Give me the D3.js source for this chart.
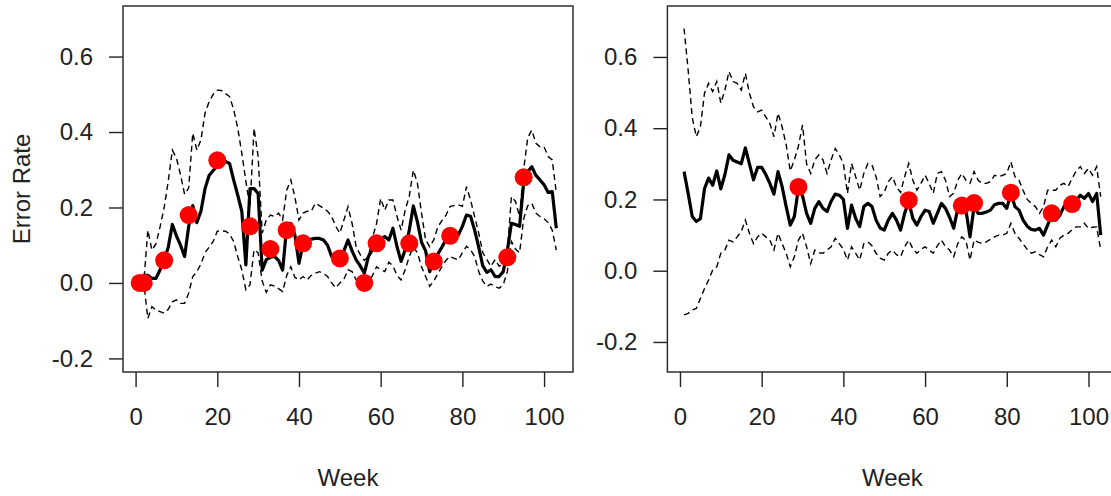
<!DOCTYPE html>
<html>
<head>
<meta charset="utf-8">
<script src="https://cdn.jsdelivr.net/npm/d3@7"></script>
<style>
  html, body { margin: 0; padding: 0; background: #fff; }
  svg { display: block; }
  text { font-family: "Liberation Sans", Arial, sans-serif; fill: #222; }
</style>
</head>
<body>
<svg id="chart" width="1111" height="496"></svg>
<script>
// ---------------- DATA ----------------
const weeks = d3.range(1, 104); // 1..103
const yTicks = [-0.2, 0.0, 0.2, 0.4, 0.6];
const xTicks = [0, 20, 40, 60, 80, 100];

// Left panel
const leftMean = [0.00,0.02,0.02,0.012,0.012,0.035,0.06,0.095,0.155,0.125,
  0.10,0.07,0.15,0.205,0.16,0.19,0.25,0.285,0.298,0.31,
  0.322,0.322,0.317,0.273,0.233,0.19,0.048,0.25,0.25,0.237,
  0.034,0.062,0.068,0.07,0.06,0.034,0.149,0.158,0.127,0.052,
  0.105,0.11,0.116,0.118,0.118,0.114,0.10,0.07,0.062,0.061,
  0.085,0.114,0.085,0.061,0.045,0.026,0.07,0.088,0.105,0.115,
  0.123,0.114,0.145,0.096,0.057,0.088,0.14,0.204,0.162,0.108,
  0.085,0.03,0.056,0.077,0.095,0.115,0.123,0.125,0.127,0.15,
  0.18,0.177,0.14,0.095,0.045,0.028,0.035,0.017,0.017,0.03,
  0.085,0.158,0.155,0.15,0.265,0.295,0.308,0.285,0.273,0.26,
  0.24,0.242,0.145];
const leftUpper = [0.0,0.0,0.14,0.087,0.104,0.149,0.20,0.27,0.352,0.331,
  0.287,0.235,0.252,0.397,0.352,0.379,0.45,0.48,0.50,0.511,
  0.51,0.502,0.494,0.46,0.411,0.344,0.27,0.20,0.41,0.335,
  0.132,0.167,0.18,0.176,0.185,0.167,0.246,0.273,0.228,0.167,
  0.185,0.19,0.19,0.211,0.205,0.198,0.19,0.176,0.15,0.132,
  0.167,0.202,0.158,0.096,0.075,0.06,0.07,0.12,0.158,0.224,
  0.193,0.22,0.22,0.176,0.14,0.193,0.23,0.299,0.264,0.185,
  0.114,0.096,0.114,0.149,0.165,0.18,0.203,0.205,0.207,0.203,
  0.255,0.22,0.176,0.132,0.08,0.062,0.044,0.062,0.044,0.052,
  0.08,0.229,0.216,0.176,0.30,0.385,0.405,0.37,0.361,0.361,
  0.335,0.326,0.238];
const leftLower = [0.0,0.0,-0.094,-0.063,-0.072,-0.076,-0.08,-0.07,-0.05,-0.045,
  -0.054,-0.054,-0.027,0.017,0.03,0.05,0.08,0.095,0.11,0.137,
  0.138,0.137,0.13,0.11,0.07,0.035,-0.018,-0.005,0.088,0.08,
  0.005,-0.025,-0.005,-0.008,-0.015,-0.023,0.02,0.043,0.015,0.008,
  0.017,0.008,0.02,0.026,0.03,0.025,0.017,0.0,-0.013,0.0,
  0.01,0.035,0.03,0.008,-0.005,-0.018,0.0,0.02,0.043,0.035,
  0.03,0.055,0.045,0.02,0.008,0.035,0.07,0.095,0.08,0.043,
  0.017,-0.009,0.005,0.025,0.043,0.06,0.07,0.065,0.061,0.08,
  0.097,0.088,0.07,0.03,0.005,-0.009,-0.003,-0.01,-0.014,-0.005,
  0.03,0.11,0.09,0.08,0.17,0.205,0.211,0.185,0.176,0.17,
  0.16,0.14,0.087];
const leftPointWeeks = [1,2,7,13,20,28,33,37,41,50,56,59,67,73,77,91,95];
const leftPointVals = [0,0,0.06,0.18,0.325,0.15,0.09,0.14,0.105,0.065,0,0.105,0.105,0.057,0.125,0.068,0.28];

// Right panel
const rightMean = [0.278,0.217,0.152,0.138,0.146,0.23,0.26,0.24,0.28,0.23,
  0.27,0.325,0.31,0.305,0.30,0.345,0.30,0.255,0.29,0.29,
  0.27,0.245,0.215,0.278,0.236,0.18,0.128,0.152,0.232,0.21,
  0.161,0.133,0.175,0.194,0.175,0.166,0.195,0.215,0.212,0.20,
  0.119,0.184,0.147,0.124,0.18,0.189,0.18,0.142,0.12,0.114,
  0.142,0.161,0.142,0.114,0.161,0.194,0.147,0.128,0.152,0.17,
  0.166,0.133,0.161,0.189,0.175,0.15,0.119,0.175,0.166,0.17,
  0.095,0.18,0.161,0.161,0.165,0.17,0.185,0.189,0.189,0.175,
  0.217,0.18,0.17,0.142,0.125,0.116,0.114,0.119,0.10,0.128,
  0.156,0.142,0.156,0.18,0.184,0.195,0.198,0.212,0.203,0.217,
  0.194,0.217,0.10];
const rightUpper = [0.68,0.563,0.43,0.376,0.404,0.498,0.526,0.503,0.531,0.47,
  0.507,0.559,0.531,0.526,0.507,0.554,0.498,0.46,0.446,0.451,
  0.432,0.413,0.376,0.442,0.404,0.353,0.28,0.311,0.35,0.409,
  0.30,0.273,0.311,0.325,0.311,0.273,0.311,0.343,0.325,0.301,
  0.217,0.301,0.264,0.226,0.273,0.301,0.297,0.264,0.208,0.22,
  0.25,0.264,0.235,0.22,0.264,0.301,0.254,0.226,0.245,0.268,
  0.245,0.217,0.273,0.278,0.254,0.208,0.217,0.254,0.273,0.254,
  0.245,0.278,0.254,0.245,0.245,0.25,0.268,0.264,0.268,0.273,
  0.306,0.264,0.254,0.225,0.20,0.189,0.18,0.161,0.18,0.226,
  0.226,0.226,0.24,0.245,0.236,0.259,0.28,0.292,0.273,0.287,
  0.268,0.292,0.208];
const rightLower = [-0.124,-0.12,-0.11,-0.106,-0.078,-0.05,-0.026,0.002,0.011,0.049,
  0.058,0.086,0.081,0.095,0.11,0.142,0.105,0.076,0.095,0.105,
  0.095,0.086,0.058,0.105,0.076,0.049,0.011,0.039,0.086,0.105,
  0.067,0.02,0.058,0.05,0.049,0.058,0.067,0.091,0.076,0.06,
  0.03,0.067,0.049,0.03,0.076,0.081,0.07,0.049,0.035,0.03,
  0.049,0.058,0.045,0.039,0.067,0.086,0.062,0.049,0.06,0.067,
  0.058,0.049,0.07,0.086,0.067,0.058,0.039,0.076,0.095,0.085,
  0.03,0.086,0.08,0.076,0.081,0.088,0.095,0.1,0.1,0.105,
  0.133,0.105,0.091,0.075,0.06,0.049,0.053,0.045,0.039,0.067,
  0.086,0.067,0.091,0.1,0.105,0.115,0.123,0.123,0.133,0.119,
  0.122,0.123,0.058];
const rightPointWeeks = [29,56,69,72,81,91,96];
const rightPointVals = [0.235,0.198,0.183,0.19,0.219,0.161,0.187];

// ---------------- DRAW ----------------
const svg = d3.select("#chart");
const FONT = 24;

function panel(cfg) {
  const x = d3.scaleLinear().domain([-3.08, 107.08]).range([cfg.x0, cfg.x1]);
  const y = d3.scaleLinear().domain(cfg.yDomain).range([372, 6]);
  const g = svg.append("g");

  const line = (vals) => d3.line().x((d, i) => x(weeks[i])).y(d => y(d))(vals);

  // bands
  [cfg.upper, cfg.lower].forEach(vals => {
    g.append("path").attr("d", line(vals))
      .attr("fill", "none").attr("stroke", "#000")
      .attr("stroke-width", 1.4).attr("stroke-dasharray", "6,4");
  });
  // mean
  g.append("path").attr("d", line(cfg.mean))
    .attr("fill", "none").attr("stroke", "#000")
    .attr("stroke-width", 3.2).attr("stroke-linejoin", "round");

  // points
  g.selectAll("circle.pt").data(cfg.pw).enter().append("circle")
    .attr("cx", d => x(d)).attr("cy", (d, i) => y(cfg.pv[i]))
    .attr("r", 9).attr("fill", "#ff0000");

  // box
  g.append("rect").attr("x", cfg.x0).attr("y", 6)
    .attr("width", cfg.x1 - cfg.x0).attr("height", 366)
    .attr("fill", "none").attr("stroke", "#222").attr("stroke-width", 1.4);

  // axes
  const ya = g.append("g").attr("transform", `translate(${cfg.x0},0)`)
    .call(d3.axisLeft(y).tickValues(yTicks).tickSize(14).tickPadding(16)
      .tickFormat(d3.format(".1f")));
  const xa = g.append("g").attr("transform", `translate(0,372)`)
    .call(d3.axisBottom(x).tickValues(xTicks).tickSize(15).tickPadding(21)
      .tickFormat(d3.format("d")));
  [ya, xa].forEach(a => {
    a.select(".domain").remove();
    a.selectAll(".tick line").attr("stroke", "#222").attr("stroke-width", 1.4);
    a.selectAll(".tick text").attr("font-size", FONT)
      .attr("font-family", '"Liberation Sans", Arial, sans-serif').attr("fill", "#222");
  });
  ya.selectAll(".tick text").text(d => d3.format(".1f")(d).replace("−", "-"));

  g.append("text").attr("x", (x(-3.08) + x(107.08)) / 2).attr("y", 486)
    .attr("text-anchor", "middle").attr("font-size", FONT).text("Week");
}

panel({ x0: 123, x1: 573, yDomain: [-0.236, 0.734],
  mean: leftMean, upper: leftUpper, lower: leftLower,
  pw: leftPointWeeks, pv: leftPointVals });
panel({ x0: 667.4, x1: 1117.4, yDomain: [-0.2843, 0.743],
  mean: rightMean, upper: rightUpper, lower: rightLower,
  pw: rightPointWeeks, pv: rightPointVals });

svg.append("text").attr("transform", "translate(30,189) rotate(-90)")
  .attr("text-anchor", "middle").attr("font-size", FONT).text("Error Rate");
</script>
</body>
</html>
